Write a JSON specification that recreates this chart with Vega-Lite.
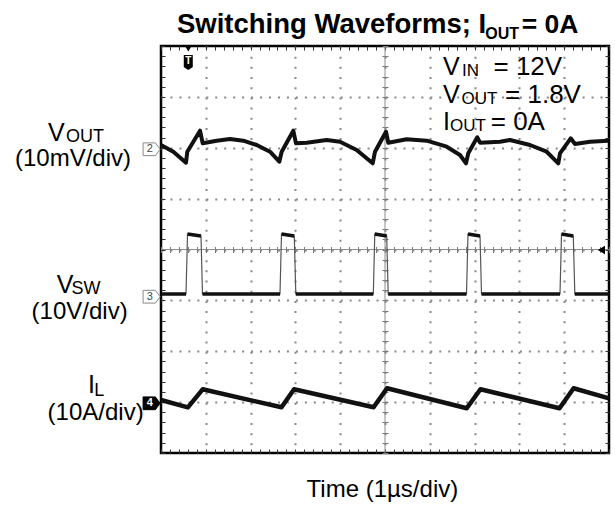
{
  "$schema": "https://vega.github.io/schema/vega-lite/v6.json",
  "width": 448,
  "height": 407,
  "autosize": {"type": "none"},
  "padding": {"left": 161, "top": 46, "right": 6, "bottom": 55},
  "background": "white",
  "config": {
    "view": {"stroke": "black", "strokeWidth": 2.5},
    "font": "Liberation Sans",
    "text": {"font": "Liberation Sans", "color": "black"}
  },
  "data": {"values": [{}]},
  "datasets": {
    "vout": [
      {"t": 0, "v": 2.054}, {"t": 0.275, "v": 1.922}, {"t": 0.558, "v": 1.706}, {"t": 0.587, "v": 1.922},
      {"t": 0.871, "v": 2.335}, {"t": 0.931, "v": 2.087}, {"t": 1.243, "v": 2.139}, {"t": 1.54, "v": 2.172},
      {"t": 1.837, "v": 2.139}, {"t": 2.136, "v": 2.054}, {"t": 2.433, "v": 1.922}, {"t": 2.641, "v": 1.726},
      {"t": 2.694, "v": 1.922}, {"t": 2.953, "v": 2.335}, {"t": 3.013, "v": 2.087}, {"t": 3.252, "v": 2.099},
      {"t": 3.699, "v": 2.152}, {"t": 3.996, "v": 2.119}, {"t": 4.368, "v": 1.956}, {"t": 4.725, "v": 1.694},
      {"t": 4.777, "v": 1.922}, {"t": 5.022, "v": 2.315}, {"t": 5.074, "v": 2.099}, {"t": 5.484, "v": 2.166},
      {"t": 5.931, "v": 2.139}, {"t": 6.377, "v": 2.021}, {"t": 6.674, "v": 1.857}, {"t": 6.808, "v": 1.694},
      {"t": 6.859, "v": 1.891}, {"t": 7.06, "v": 2.205}, {"t": 7.121, "v": 2.099}, {"t": 7.567, "v": 2.119},
      {"t": 7.79, "v": 2.152}, {"t": 8.237, "v": 2.054}, {"t": 8.609, "v": 1.922}, {"t": 8.868, "v": 1.694},
      {"t": 8.906, "v": 1.891}, {"t": 9.145, "v": 2.186}, {"t": 9.241, "v": 2.074}, {"t": 9.576, "v": 2.119},
      {"t": 9.984, "v": 2.139}
    ],
    "vsw": [
      {"t": 0, "v": -0.875, "seg": "L0"}, {"t": 0.558, "v": -0.875, "seg": "L0"},
      {"t": 0.592, "v": 0.305, "seg": "H1"}, {"t": 0.893, "v": 0.265, "seg": "H1"},
      {"t": 0.926, "v": -0.875, "seg": "L1"}, {"t": 2.656, "v": -0.875, "seg": "L1"},
      {"t": 2.69, "v": 0.305, "seg": "H2"}, {"t": 2.975, "v": 0.265, "seg": "H2"},
      {"t": 3.009, "v": -0.875, "seg": "L2"}, {"t": 4.739, "v": -0.875, "seg": "L2"},
      {"t": 4.772, "v": 0.305, "seg": "H3"}, {"t": 5.038, "v": 0.265, "seg": "H3"},
      {"t": 5.071, "v": -0.875, "seg": "L3"}, {"t": 6.819, "v": -0.875, "seg": "L3"},
      {"t": 6.853, "v": 0.305, "seg": "H4"}, {"t": 7.121, "v": 0.265, "seg": "H4"},
      {"t": 7.154, "v": -0.875, "seg": "L4"}, {"t": 8.906, "v": -0.875, "seg": "L4"},
      {"t": 8.94, "v": 0.305, "seg": "H5"}, {"t": 9.203, "v": 0.265, "seg": "H5"},
      {"t": 9.237, "v": -0.875, "seg": "L5"}, {"t": 10, "v": -0.875, "seg": "L5"}
    ],
    "il": [
      {"t": 0, "v": -2.958}, {"t": 0.6, "v": -3.102}, {"t": 0.93, "v": -2.748}, {"t": 2.69, "v": -3.102},
      {"t": 2.97, "v": -2.748}, {"t": 4.745, "v": -3.102}, {"t": 5.045, "v": -2.728}, {"t": 6.825, "v": -3.121},
      {"t": 7.13, "v": -2.748}, {"t": 8.895, "v": -3.121}, {"t": 9.21, "v": -2.728}, {"t": 10, "v": -2.925}
    ]
  },
  "resolve": {"axis": {"x": "independent", "y": "independent"}},
  "layer": [
    {
      "mark": {"type": "rule", "color": "#8c8c8c", "strokeWidth": 1},
      "encoding": {"x": {"datum": 5, "type": "quantitative", "scale": {"domain": [0, 10], "nice": false, "zero": false},
        "axis": {"orient": "bottom", "offset": -4, "title": null, "labels": false, "domain": false, "grid": false, "ticks": true, "tickSize": 4, "tickColor": "#333", "tickWidth": 1,
          "values": [0,0.2,0.4,0.6,0.8,1,1.2,1.4,1.6,1.8,2,2.2,2.4,2.6,2.8,3,3.2,3.4,3.6,3.8,4,4.2,4.4,4.6,4.8,5,5.2,5.4,5.6,5.8,6,6.2,6.4,6.6,6.8,7,7.2,7.4,7.6,7.8,8,8.2,8.4,8.6,8.8,9,9.2,9.4,9.6,9.8,10]}}}
    },
    {
      "mark": {"type": "rule", "color": "#8c8c8c", "strokeWidth": 1},
      "encoding": {"y": {"datum": 0, "type": "quantitative", "scale": {"domain": [-4, 4], "nice": false, "zero": false},
        "axis": {"orient": "left", "offset": -4, "title": null, "labels": false, "domain": false, "grid": false, "ticks": true, "tickSize": 4, "tickColor": "#333", "tickWidth": 1,
          "values": [-4,-3.8,-3.6,-3.4,-3.2,-3,-2.8,-2.6,-2.4,-2.2,-2,-1.8,-1.6,-1.4,-1.2,-1,-0.8,-0.6,-0.4,-0.2,0,0.2,0.4,0.6,0.8,1,1.2,1.4,1.6,1.8,2,2.2,2.4,2.6,2.8,3,3.2,3.4,3.6,3.8,4]}}}
    },
    {
      "data": {"name": "vout"},
      "mark": {"type": "line", "color": "#111", "strokeWidth": 4, "strokeJoin": "round"},
      "encoding": {
        "x": {"field": "t", "type": "quantitative", "scale": {"domain": [0, 10], "nice": false, "zero": false},
          "axis": {"orient": "top", "offset": -4, "title": null, "labels": false, "domain": false, "grid": false, "ticks": true, "tickSize": 4, "tickColor": "#333", "tickWidth": 1,
            "values": [0,0.2,0.4,0.6,0.8,1,1.2,1.4,1.6,1.8,2,2.2,2.4,2.6,2.8,3,3.2,3.4,3.6,3.8,4,4.2,4.4,4.6,4.8,5,5.2,5.4,5.6,5.8,6,6.2,6.4,6.6,6.8,7,7.2,7.4,7.6,7.8,8,8.2,8.4,8.6,8.8,9,9.2,9.4,9.6,9.8,10]}},
        "y": {"field": "v", "type": "quantitative", "scale": {"domain": [-4, 4], "nice": false, "zero": false},
          "axis": {"orient": "right", "offset": -4, "title": null, "labels": false, "domain": false, "grid": false, "ticks": true, "tickSize": 4, "tickColor": "#333", "tickWidth": 1,
            "values": [-4,-3.8,-3.6,-3.4,-3.2,-3,-2.8,-2.6,-2.4,-2.2,-2,-1.8,-1.6,-1.4,-1.2,-1,-0.8,-0.6,-0.4,-0.2,0,0.2,0.4,0.6,0.8,1,1.2,1.4,1.6,1.8,2,2.2,2.4,2.6,2.8,3,3.2,3.4,3.6,3.8,4]}}
      }
    },
    {
      "data": {"name": "vsw"},
      "mark": {"type": "line", "color": "#555", "strokeWidth": 1.2},
      "encoding": {
        "x": {"field": "t", "type": "quantitative", "scale": {"domain": [0, 10], "nice": false, "zero": false},
          "axis": {"orient": "bottom", "offset": 0, "title": null, "labels": false, "domain": false, "ticks": false, "grid": true, "gridColor": "#888", "gridWidth": 2, "gridDash": [2, 8.175],
            "values": [1,2,3,4,5,6,7,8,9]}},
        "y": {"field": "v", "type": "quantitative", "scale": {"domain": [-4, 4], "nice": false, "zero": false},
          "axis": {"orient": "left", "offset": 0, "title": null, "labels": false, "domain": false, "ticks": false, "grid": true, "gridColor": "#888", "gridWidth": 2, "gridDash": [2, 6.96],
            "values": [-3,-2,-1,0,1,2,3]}}
      }
    },
    {
      "data": {"name": "vsw"},
      "mark": {"type": "line", "color": "#111", "strokeWidth": 3.5},
      "encoding": {
        "detail": {"field": "seg", "type": "nominal"},
        "x": {"field": "t", "type": "quantitative", "scale": {"domain": [0, 10], "nice": false, "zero": false}, "axis": null},
        "y": {"field": "v", "type": "quantitative", "scale": {"domain": [-4, 4], "nice": false, "zero": false}, "axis": null}
      }
    },
    {
      "data": {"name": "il"},
      "mark": {"type": "line", "color": "#111", "strokeWidth": 4.5, "strokeJoin": "round"},
      "encoding": {
        "x": {"field": "t", "type": "quantitative", "scale": {"domain": [0, 10], "nice": false, "zero": false},
          "axis": {"orient": "bottom", "offset": -206.5, "title": null, "labels": false, "domain": false, "grid": false, "ticks": true, "tickSize": 6, "tickColor": "#777", "tickWidth": 1,
            "values": [0,0.2,0.4,0.6,0.8,1,1.2,1.4,1.6,1.8,2,2.2,2.4,2.6,2.8,3,3.2,3.4,3.6,3.8,4,4.2,4.4,4.6,4.8,5,5.2,5.4,5.6,5.8,6,6.2,6.4,6.6,6.8,7,7.2,7.4,7.6,7.8,8,8.2,8.4,8.6,8.8,9,9.2,9.4,9.6,9.8,10]}},
        "y": {"field": "v", "type": "quantitative", "scale": {"domain": [-4, 4], "nice": false, "zero": false},
          "axis": {"orient": "left", "offset": -227, "title": null, "labels": false, "domain": false, "grid": false, "ticks": true, "tickSize": 6, "tickColor": "#777", "tickWidth": 1,
            "values": [-4,-3.8,-3.6,-3.4,-3.2,-3,-2.8,-2.6,-2.4,-2.2,-2,-1.8,-1.6,-1.4,-1.2,-1,-0.8,-0.6,-0.4,-0.2,0,0.2,0.4,0.6,0.8,1,1.2,1.4,1.6,1.8,2,2.2,2.4,2.6,2.8,3,3.2,3.4,3.6,3.8,4]}}
      }
    },
    {
      "mark": {"type": "point", "shape": "M-1,-0.75L0.45,-0.75L1,0L0.45,0.75L-1,0.75Z", "filled": true, "fill": "white", "stroke": "#888", "strokeWidth": 1, "size": 289, "opacity": 1},
      "encoding": {"x": {"datum": -0.21, "type": "quantitative", "axis": null}, "y": {"datum": 1.97, "type": "quantitative", "axis": null}}
    },
    {
      "mark": {"type": "text", "text": "2", "fontSize": 11, "color": "#444", "align": "center", "baseline": "middle"},
      "encoding": {"x": {"datum": -0.25, "type": "quantitative", "axis": null}, "y": {"datum": 1.97, "type": "quantitative", "axis": null}}
    },
    {
      "mark": {"type": "point", "shape": "M-1,-0.75L0.45,-0.75L1,0L0.45,0.75L-1,0.75Z", "filled": true, "fill": "white", "stroke": "#888", "strokeWidth": 1, "size": 289, "opacity": 1},
      "encoding": {"x": {"datum": -0.21, "type": "quantitative", "axis": null}, "y": {"datum": -0.928, "type": "quantitative", "axis": null}}
    },
    {
      "mark": {"type": "text", "text": "3", "fontSize": 11, "color": "#444", "align": "center", "baseline": "middle"},
      "encoding": {"x": {"datum": -0.25, "type": "quantitative", "axis": null}, "y": {"datum": -0.928, "type": "quantitative", "axis": null}}
    },
    {
      "mark": {"type": "point", "shape": "M-1,-0.75L0.45,-0.75L1,0L0.45,0.75L-1,0.75Z", "filled": true, "fill": "black", "stroke": "black", "strokeWidth": 1, "size": 289, "opacity": 1},
      "encoding": {"x": {"datum": -0.21, "type": "quantitative", "axis": null}, "y": {"datum": -3.023, "type": "quantitative", "axis": null}}
    },
    {
      "mark": {"type": "text", "text": "4", "fontSize": 11, "fontWeight": "bold", "color": "white", "align": "center", "baseline": "middle"},
      "encoding": {"x": {"datum": -0.25, "type": "quantitative", "axis": null}, "y": {"datum": -3.023, "type": "quantitative", "axis": null}}
    },
    {
      "mark": {"type": "point", "shape": "triangle-down", "filled": true, "color": "black", "size": 50, "opacity": 1},
      "encoding": {"x": {"datum": 0.609, "type": "quantitative", "axis": null}, "y": {"datum": 3.95, "type": "quantitative", "axis": null}}
    },
    {
      "mark": {"type": "point", "shape": "M-0.6,-1L0.6,-1L0.6,0.6L0,1L-0.6,0.6Z", "filled": true, "color": "black", "size": 225, "opacity": 1},
      "encoding": {"x": {"datum": 0.609, "type": "quantitative", "axis": null}, "y": {"datum": 3.676, "type": "quantitative", "axis": null}}
    },
    {
      "mark": {"type": "text", "text": "T", "fontSize": 10, "fontWeight": "bold", "color": "white", "align": "center", "baseline": "middle"},
      "encoding": {"x": {"datum": 0.609, "type": "quantitative", "axis": null}, "y": {"datum": 3.70, "type": "quantitative", "axis": null}}
    },
    {
      "mark": {"type": "point", "shape": "triangle-left", "filled": true, "color": "black", "size": 70, "opacity": 1},
      "encoding": {"x": {"datum": 9.83, "type": "quantitative", "axis": null}, "y": {"datum": -0.01, "type": "quantitative", "axis": null}}
    },
    {
      "mark": {"type": "text", "text": "Switching Waveforms; I", "fontSize": 27.5, "fontWeight": "bold", "align": "left", "baseline": "alphabetic"},
      "encoding": {"x": {"datum": 0.357, "type": "quantitative", "axis": null}, "y": {"datum": 4.265, "type": "quantitative", "axis": null}}
    },
    {
      "mark": {"type": "text", "text": "OUT", "fontSize": 16, "fontWeight": "bold", "align": "left", "baseline": "alphabetic"},
      "encoding": {"x": {"datum": 7.24, "type": "quantitative", "axis": null}, "y": {"datum": 4.132, "type": "quantitative", "axis": null}}
    },
    {
      "mark": {"type": "text", "text": "= 0A", "fontSize": 26.5, "fontWeight": "bold", "align": "left", "baseline": "alphabetic"},
      "encoding": {"x": {"datum": 8.05, "type": "quantitative", "axis": null}, "y": {"datum": 4.265, "type": "quantitative", "axis": null}}
    },
    {
      "mark": {"type": "text", "text": "V", "fontSize": 25, "align": "left", "baseline": "alphabetic"},
      "encoding": {"x": {"datum": -2.522, "type": "quantitative", "axis": null}, "y": {"datum": 2.127, "type": "quantitative", "axis": null}}
    },
    {
      "mark": {"type": "text", "text": "OUT", "fontSize": 18, "align": "left", "baseline": "alphabetic"},
      "encoding": {"x": {"datum": -2.12, "type": "quantitative", "axis": null}, "y": {"datum": 2.105, "type": "quantitative", "axis": null}}
    },
    {
      "mark": {"type": "text", "text": "(10mV/div)", "fontSize": 24, "align": "left", "baseline": "alphabetic"},
      "encoding": {"x": {"datum": -3.259, "type": "quantitative", "axis": null}, "y": {"datum": 1.64, "type": "quantitative", "axis": null}}
    },
    {
      "mark": {"type": "text", "text": "V", "fontSize": 25, "align": "left", "baseline": "alphabetic"},
      "encoding": {"x": {"datum": -2.328, "type": "quantitative", "axis": null}, "y": {"datum": -0.85, "type": "quantitative", "axis": null}}
    },
    {
      "mark": {"type": "text", "text": "SW", "fontSize": 18, "align": "left", "baseline": "alphabetic"},
      "encoding": {"x": {"datum": -2.0, "type": "quantitative", "axis": null}, "y": {"datum": -0.873, "type": "quantitative", "axis": null}}
    },
    {
      "mark": {"type": "text", "text": "(10V/div)", "fontSize": 24, "align": "left", "baseline": "alphabetic"},
      "encoding": {"x": {"datum": -2.888, "type": "quantitative", "axis": null}, "y": {"datum": -1.36, "type": "quantitative", "axis": null}}
    },
    {
      "mark": {"type": "text", "text": "I", "fontSize": 25, "align": "left", "baseline": "alphabetic"},
      "encoding": {"x": {"datum": -1.629, "type": "quantitative", "axis": null}, "y": {"datum": -2.821, "type": "quantitative", "axis": null}}
    },
    {
      "mark": {"type": "text", "text": "L", "fontSize": 18, "align": "left", "baseline": "alphabetic"},
      "encoding": {"x": {"datum": -1.49, "type": "quantitative", "axis": null}, "y": {"datum": -2.88, "type": "quantitative", "axis": null}}
    },
    {
      "mark": {"type": "text", "text": "(10A/div)", "fontSize": 24, "align": "left", "baseline": "alphabetic"},
      "encoding": {"x": {"datum": -2.531, "type": "quantitative", "axis": null}, "y": {"datum": -3.36, "type": "quantitative", "axis": null}}
    },
    {
      "mark": {"type": "text", "text": "V", "fontSize": 25, "align": "left", "baseline": "alphabetic"},
      "encoding": {"x": {"datum": 6.295, "type": "quantitative", "axis": null}, "y": {"datum": 3.43, "type": "quantitative", "axis": null}}
    },
    {
      "mark": {"type": "text", "text": "IN", "fontSize": 17, "align": "left", "baseline": "alphabetic"},
      "encoding": {"x": {"datum": 6.72, "type": "quantitative", "axis": null}, "y": {"datum": 3.411, "type": "quantitative", "axis": null}}
    },
    {
      "mark": {"type": "text", "text": "= 12V", "fontSize": 26, "align": "left", "baseline": "alphabetic"},
      "encoding": {"x": {"datum": 7.422, "type": "quantitative", "axis": null}, "y": {"datum": 3.43, "type": "quantitative", "axis": null}}
    },
    {
      "mark": {"type": "text", "text": "V", "fontSize": 25, "align": "left", "baseline": "alphabetic"},
      "encoding": {"x": {"datum": 6.295, "type": "quantitative", "axis": null}, "y": {"datum": 2.874, "type": "quantitative", "axis": null}}
    },
    {
      "mark": {"type": "text", "text": "OUT", "fontSize": 17, "align": "left", "baseline": "alphabetic"},
      "encoding": {"x": {"datum": 6.71, "type": "quantitative", "axis": null}, "y": {"datum": 2.854, "type": "quantitative", "axis": null}}
    },
    {
      "mark": {"type": "text", "text": "= 1.8V", "fontSize": 26, "align": "left", "baseline": "alphabetic"},
      "encoding": {"x": {"datum": 7.68, "type": "quantitative", "axis": null}, "y": {"datum": 2.874, "type": "quantitative", "axis": null}}
    },
    {
      "mark": {"type": "text", "text": "I", "fontSize": 25, "align": "left", "baseline": "alphabetic"},
      "encoding": {"x": {"datum": 6.295, "type": "quantitative", "axis": null}, "y": {"datum": 2.349, "type": "quantitative", "axis": null}}
    },
    {
      "mark": {"type": "text", "text": "OUT", "fontSize": 17, "align": "left", "baseline": "alphabetic"},
      "encoding": {"x": {"datum": 6.45, "type": "quantitative", "axis": null}, "y": {"datum": 2.329, "type": "quantitative", "axis": null}}
    },
    {
      "mark": {"type": "text", "text": "= 0A", "fontSize": 26, "align": "left", "baseline": "alphabetic"},
      "encoding": {"x": {"datum": 7.36, "type": "quantitative", "axis": null}, "y": {"datum": 2.349, "type": "quantitative", "axis": null}}
    },
    {
      "mark": {"type": "text", "text": "Time (1µs/div)", "fontSize": 24, "align": "center", "baseline": "alphabetic"},
      "encoding": {"x": {"datum": 4.942, "type": "quantitative", "axis": null}, "y": {"datum": -4.865, "type": "quantitative", "axis": null}}
    }
  ]
}
